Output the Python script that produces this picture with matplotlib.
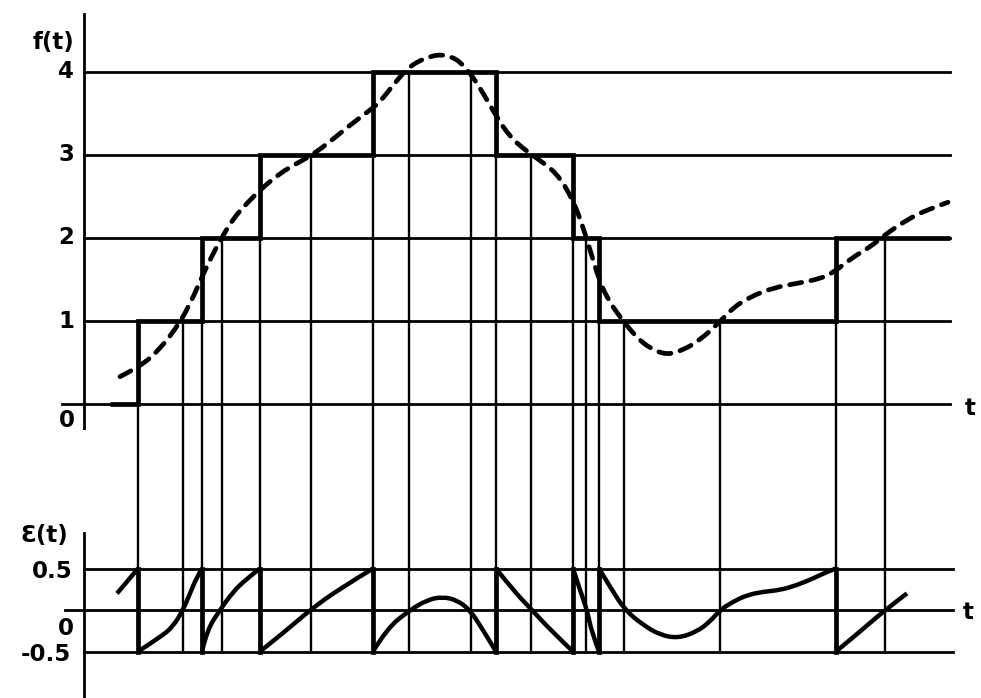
import numpy as np
import matplotlib.pyplot as plt
from matplotlib.path import Path
from matplotlib.patches import PathPatch

# Quantized staircase: level held between consecutive edges
step_edges = [26, 54, 118, 176, 289, 412, 489, 515, 752, 866]
step_levels = [0, 1, 2, 3, 4, 3, 2, 1, 2]

# Vertical sampling lines (time, quantized level at the top of the line)
vline_t = [54, 99, 118, 138, 176, 227, 289, 325, 387, 412, 447, 489, 502, 515, 540, 636, 752, 801]
vline_top = [0, 1, 1, 2, 2, 3, 3, 4, 4, 3, 3, 2, 2, 1, 1, 1, 1, 2]

# Continuous signal f(t) (dashed)
f_t = [36, 56, 76, 96, 109, 119, 129, 138, 149, 163, 178, 196, 213, 228, 246, 266,
       286, 296, 309, 323, 336, 347, 358, 368, 376, 386, 399, 413, 426, 439, 453, 473,
       489, 499, 506, 516, 526, 539, 553, 566, 583, 599, 616, 636, 649, 666, 689, 716,
       736, 749, 769, 786, 801, 823, 843, 864]
f_val = [0.33, 0.45, 0.66, 0.98, 1.28, 1.56, 1.81, 2.01, 2.23, 2.42, 2.6, 2.78, 2.9, 3.0, 3.16, 3.36,
         3.54, 3.64, 3.84, 4.04, 4.14, 4.19, 4.21, 4.18, 4.12, 3.99, 3.75, 3.45, 3.22, 3.08, 2.96, 2.78,
         2.46, 2.13, 1.86, 1.46, 1.22, 1.0, 0.8, 0.67, 0.59, 0.65, 0.77, 0.99, 1.16, 1.29, 1.4, 1.46,
         1.51, 1.58, 1.77, 1.89, 2.04, 2.22, 2.34, 2.43]

# Quantization error e(t), one list per step interval
err_t = [
  [33, 43, 54],
  [54, 76, 89, 99, 106, 113, 118],
  [118, 123, 136, 149, 163, 176],
  [176, 203, 226, 256, 289],
  [289, 303, 326, 343, 358, 373, 386, 399, 412],
  [412, 429, 448, 468, 489],
  [489, 496, 503, 508, 515],
  [515, 528, 541, 559, 576, 594, 613, 626, 636, 649, 663, 679, 696, 713, 729, 743, 752],
  [752, 776, 801, 823],
]
err_val = [
  [0.2, 0.34, 0.5],
  [-0.5, -0.33, -0.2, 0.0, 0.2, 0.4, 0.5],
  [-0.5, -0.24, 0.0, 0.22, 0.38, 0.5],
  [-0.5, -0.24, 0.0, 0.26, 0.5],
  [-0.5, -0.22, 0.0, 0.12, 0.16, 0.12, 0.0, -0.24, -0.5],
  [0.5, 0.24, 0.0, -0.26, -0.5],
  [0.5, 0.24, 0.0, -0.28, -0.5],
  [0.5, 0.24, 0.0, -0.18, -0.3, -0.34, -0.26, -0.14, 0.0, 0.1, 0.18, 0.22, 0.24, 0.3, 0.38, 0.46, 0.5],
  [-0.5, -0.26, 0.0, 0.2],
]


def smooth(x, y):
  # quadratic spline through segment midpoints, drawn by matplotlib
  pts = np.column_stack([x, y]).astype(float)
  if len(pts) < 3:
    return Path(pts)
  verts = [pts[0]]
  codes = [Path.MOVETO]
  for i in range(1, len(pts) - 1):
    end = pts[i + 1] if i == len(pts) - 2 else (pts[i] + pts[i + 1]) / 2
    verts += [pts[i], end]
    codes += [Path.CURVE3, Path.CURVE3]
  return Path(verts, codes)


fig = plt.figure(figsize=(9.81, 6.98), dpi=100)
ax1 = fig.add_axes([0, 268 / 698, 1, 430 / 698])
ax2 = fig.add_axes([0, 0, 1, 268 / 698])
for ax in (ax1, ax2):
  ax.set_xlim(-84, 897)
  ax.axis('off')
ax1.set_ylim(-0.313, 4.867)
ax2.set_ylim(-1.060, 2.169)

k = 'black'
grid_lw = 2.0
thin_lw = 1.7
thick_lw = 3.4

# Upper panel: level lines and axis
for lv in [1, 2, 3, 4]:
  ax1.plot([0, 866], [lv, lv], color=k, lw=grid_lw)
ax1.plot([-22, 866], [0, 0], color=k, lw=grid_lw)
ax1.plot([0, 0], [-0.313, 4.70], color=k, lw=grid_lw)

# Lower panel: level lines and axis
for lv in [0.5, -0.5]:
  ax2.plot([0, 869], [lv, lv], color=k, lw=grid_lw)
ax2.plot([-19, 869], [0, 0], color=k, lw=grid_lw)
ax2.plot([0, 0], [-1.06, 0.93], color=k, lw=grid_lw)

# Vertical sample lines running through both panels
for t, top in zip(vline_t, vline_top):
  ax1.plot([t, t], [top, -0.313], color=k, lw=thin_lw)
  ax2.plot([t, t], [2.169, -0.5], color=k, lw=thin_lw)

# Quantized staircase
ax1.stairs(step_levels, step_edges, baseline=None, color=k, lw=thick_lw)

# Continuous signal
ax1.add_patch(PathPatch(smooth(f_t, f_val), fill=False, edgecolor=k, lw=3.4,
                        linestyle=(0, (2.6, 2.0)), capstyle='round'))

# Quantization error pieces and their jumps
for xs, ys in zip(err_t, err_val):
  ax2.add_patch(PathPatch(smooth(xs, ys), fill=False, edgecolor=k, lw=3.2))
for t in step_edges[1:-1]:
  ax2.plot([t, t], [-0.5, 0.5], color=k, lw=thick_lw)

# Labels
fs = 16.5
tk = dict(fontsize=fs, fontweight='bold', ha='center', va='center')
ax1.text(-31, 4.36, 'f(t)', **tk)
for lv in [1, 2, 3, 4]:
  ax1.text(-18, lv, str(lv), **tk)
ax1.text(-17, -0.2, '0', **tk)
ax1.text(886, -0.05, 't', **tk)

ax2.text(-40, 0.90, 'Ɛ(t)', **tk)
ax2.text(-32, 0.46, '0.5', **tk)
ax2.text(-18, -0.22, '0', **tk)
ax2.text(-38, -0.54, '-0.5', **tk)
ax2.text(884, -0.03, 't', **tk)

fig.savefig('out.png', dpi=100)
